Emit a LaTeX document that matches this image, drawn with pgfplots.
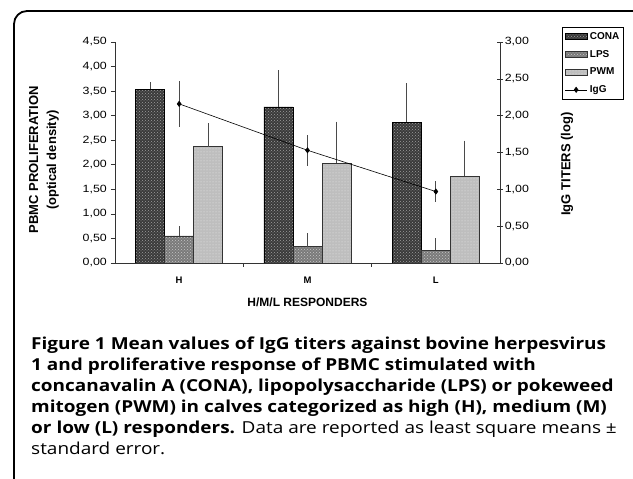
\documentclass[border=0pt]{standalone}
\usepackage{fontspec}
\setmainfont{Liberation Sans}
\newfontfamily\capfont{Open Sans}
\usepackage{pgfplots}
\pgfplotsset{compat=1.18}
\usetikzlibrary{patterns}

\definecolor{conafill}{HTML}{3A3A3A}
\definecolor{lpsfill}{HTML}{7A7A7A}
\definecolor{pwmfill}{HTML}{BEBEBE}
\definecolor{axcol}{HTML}{333333}
\definecolor{errcol}{HTML}{4A4A4A}

\pgfplotsset{
  barleg/.style={legend image code/.code={\draw[##1] (0pt,-3pt) rectangle (22pt,3pt);}},
  lineleg/.style={legend image code/.code={\draw[mark repeat=2, mark phase=2, ##1] plot coordinates {(0pt,0pt) (11pt,0pt) (22pt,0pt)};}},
}

% mean values (left axis) and upper standard error
\pgfplotstableread{
x y e
0 3.54 0.08
1 3.18 0.68
2 2.87 0.73
}\cona
\pgfplotstableread{
x y e
0 0.55 0.14
1 0.33 0.21
2 0.26 0.18
}\lps
\pgfplotstableread{
x y e
0 2.37 0.41
1 2.03 0.79
2 1.77 0.66
}\pwm
% IgG titers (right axis)
\pgfplotstableread{
x y e
0 2.16 0.31
1 1.53 0.21
2 0.97 0.14
}\igg

\begin{document}
\begin{tikzpicture}[x=1pt,y=1pt]
\useasboundingbox (0,0) rectangle (633,479);
\fill[white] (0,0) rectangle (633,479);
\draw[line width=1.8pt, rounded corners=13pt] (14,-20) -- (14,468) -- (646,468) -- (646,-20);

\pgfplotsset{
  base/.style={
    at={(115pt,216pt)}, anchor=south west,
    scale only axis, width=385pt, height=221pt,
    xmin=-0.5, xmax=2.5, ymin=0,
    enlargelimits=false,
    axis line style={axcol, line width=0.7pt},
    tick style={axcol, line width=0.6pt},
    /pgf/number format/assume math mode=true,
    yticklabel style={font=\fontsize{10.5}{12}\selectfont, xscale=1.18,
      /pgf/number format/fixed, /pgf/number format/fixed zerofill,
      /pgf/number format/precision=2, /pgf/number format/use comma},
  },
}

\begin{axis}[base,
  ymax=4.5,
  axis x line*=bottom, axis y line*=left,
  ytick={0,0.5,1,1.5,2,2.5,3,3.5,4,4.5},
  tick align=outside, major tick length=4pt, minor tick length=4pt,
  xtick={0,1,2}, xticklabels={H,M,L},
  xticklabel style={font=\bfseries\fontsize{9.5}{10}\selectfont, yshift=-6pt},
  major x tick style={draw=none},
  minor xtick={0.5,1.5},
  ybar, bar width=0.226,
  error bars/error bar style={errcol, line width=0.7pt},
  error bars/error mark options={errcol, mark size=3pt, line width=0.7pt},
]
\addplot[ybar, bar shift=-0.226, draw=black, line width=0.6pt, fill=conafill,
  postaction={pattern=crosshatch dots, pattern color=gray!75},
  error bars/.cd, y dir=plus, y explicit]
  table[x=x, y=y, y error=e] {\cona};
\addplot[ybar, bar shift=0, draw=axcol, line width=0.6pt, fill=lpsfill,
  postaction={pattern=crosshatch dots, pattern color=gray!45},
  error bars/.cd, y dir=plus, y explicit]
  table[x=x, y=y, y error=e] {\lps};
\addplot[ybar, bar shift=0.226, draw=gray!40!black, line width=0.6pt, fill=pwmfill,
  postaction={pattern=dots, pattern color=gray!15},
  error bars/.cd, y dir=plus, y explicit]
  table[x=x, y=y, y error=e] {\pwm};
\end{axis}

\begin{axis}[base,
  ymax=3,
  axis x line=none, axis y line*=right,
  ytick={0,0.5,1,1.5,2,2.5,3},
  tick align=center, major tick length=6pt,
  yticklabel style={xshift=-2pt},
  legend cell align=left,
  legend style={at={(1.161,1.068)}, anchor=north west, draw=black, line width=0.7pt,
    font=\bfseries\fontsize{10}{11}\selectfont, inner xsep=2.5pt, inner ysep=3.5pt,
    nodes={inner xsep=1pt, inner ysep=1.5pt},
    /tikz/every odd column/.append style={column sep=1.5pt},
    row sep=6.3pt},
]
\addlegendimage{barleg, draw=black, line width=0.5pt, fill=conafill,
  postaction={pattern=crosshatch dots, pattern color=gray!75}}
\addlegendentry{CONA}
\addlegendimage{barleg, draw=axcol, line width=0.5pt, fill=lpsfill,
  postaction={pattern=crosshatch dots, pattern color=gray!45}}
\addlegendentry{LPS}
\addlegendimage{barleg, draw=gray!40!black, line width=0.5pt, fill=pwmfill,
  postaction={pattern=dots, pattern color=gray!15}}
\addlegendentry{PWM}
\addplot[lineleg, black, line width=0.6pt, mark=diamond*, mark size=2.6pt,
  error bars/.cd, y dir=both, y explicit, error mark=none,
  error bar style={errcol, line width=0.8pt}]
  table[x=x, y=y, y error=e] {\igg};
\addlegendentry{IgG}
\end{axis}

\node[rotate=90, align=center, font=\bfseries\fontsize{13}{18}\selectfont] at (44,319) {PBMC PROLIFERATION\\(optical density)};
\node[rotate=90, font=\bfseries\fontsize{13}{15}\selectfont] at (567,315) {IgG TITERS (log)};
\node[font=\bfseries\fontsize{12}{14}\selectfont] at (307.5,177) {H/M/L RESPONDERS};

\begin{scope}[every node/.style={anchor=base west, inner sep=0pt, xscale=1.15, font=\capfont\fontsize{16.5}{21}\selectfont}]
\node at (31,129) {\bfseries Figure 1 Mean values of IgG titers against bovine herpesvirus};
\node at (31,108) {\bfseries 1 and proliferative response of PBMC stimulated with};
\node at (31,87) {\bfseries concanavalin A (CONA), lipopolysaccharide (LPS) or pokeweed};
\node at (31,66) {\bfseries mitogen (PWM) in calves categorized as high (H), medium (M)};
\node at (31,45) {\textbf{or low (L) responders.} Data are reported as least square means ±};
\node at (31,24) {standard error.};
\end{scope}
\end{tikzpicture}
\end{document}
